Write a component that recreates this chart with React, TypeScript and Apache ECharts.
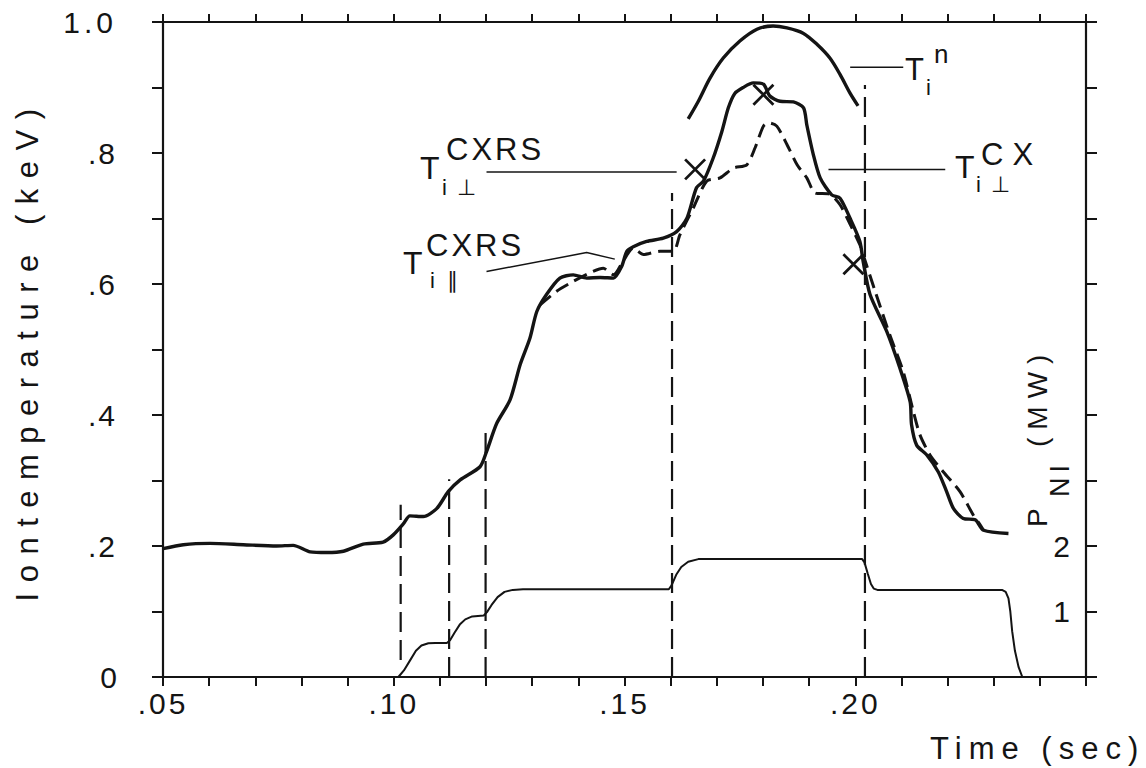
import React, { useEffect, useRef } from 'react';
import * as echarts from 'echarts';

// ---- data (time in sec, temperature in keV, power in MW) ----
const tiCxTime = [0.05, 0.0544, 0.0602, 0.0674, 0.0746, 0.0782, 0.0819, 0.0855, 0.0891, 0.0934, 0.0977, 0.0999, 0.1021, 0.1035, 0.1064, 0.1093, 0.1118, 0.1144, 0.1187, 0.1201, 0.1223, 0.1252, 0.1274, 0.1295, 0.131, 0.1331, 0.136, 0.1389, 0.1418, 0.1447, 0.1476, 0.1494, 0.1505, 0.1519, 0.1548, 0.1584, 0.1613, 0.1635, 0.1656, 0.1671, 0.1692, 0.1711, 0.1725, 0.1739, 0.1757, 0.1779, 0.1801, 0.1815, 0.1837, 0.1866, 0.1888, 0.1895, 0.1909, 0.1924, 0.1949, 0.1967, 0.1989, 0.201, 0.2017, 0.2032, 0.2068, 0.2097, 0.2119, 0.2122, 0.2133, 0.2155, 0.218, 0.2198, 0.2213, 0.2234, 0.226, 0.2278, 0.2332];
const tiCxValue = [0.196, 0.202, 0.204, 0.202, 0.2, 0.201, 0.191, 0.19, 0.192, 0.203, 0.206, 0.217, 0.234, 0.246, 0.245, 0.257, 0.283, 0.301, 0.321, 0.344, 0.387, 0.423, 0.477, 0.517, 0.558, 0.584, 0.609, 0.614, 0.609, 0.61, 0.609, 0.627, 0.65, 0.657, 0.665, 0.67, 0.68, 0.7, 0.747, 0.757, 0.792, 0.833, 0.869, 0.891, 0.9, 0.907, 0.905, 0.887, 0.879, 0.878, 0.869, 0.843, 0.798, 0.762, 0.736, 0.731, 0.7, 0.665, 0.635, 0.584, 0.528, 0.471, 0.42, 0.385, 0.354, 0.339, 0.313, 0.283, 0.257, 0.242, 0.24, 0.224, 0.219];

const tiNTime = [0.1638, 0.166, 0.1685, 0.1714, 0.175, 0.1787, 0.1822, 0.1852, 0.1887, 0.1917, 0.1945, 0.1967, 0.1989, 0.2006];
const tiNValue = [0.852, 0.879, 0.914, 0.945, 0.971, 0.989, 0.994, 0.991, 0.983, 0.966, 0.945, 0.92, 0.891, 0.872];

const tiParTime = [0.1317, 0.1353, 0.1389, 0.1425, 0.1454, 0.1476, 0.1497, 0.1519, 0.1541, 0.1577, 0.1606, 0.162, 0.1649, 0.1678, 0.1707, 0.1736, 0.1765, 0.1783, 0.1801, 0.1812, 0.183, 0.1852, 0.1874, 0.1895, 0.1913, 0.1945, 0.1967, 0.1989, 0.201, 0.2017, 0.2043, 0.2075, 0.2104, 0.2126, 0.214, 0.2162, 0.2191, 0.2227, 0.2256, 0.2271, 0.2278];
const tiParValue = [0.568, 0.589, 0.604, 0.617, 0.624, 0.614, 0.635, 0.655, 0.645, 0.65, 0.65, 0.675, 0.716, 0.757, 0.762, 0.777, 0.782, 0.808, 0.841, 0.846, 0.841, 0.813, 0.782, 0.762, 0.739, 0.737, 0.721, 0.691, 0.66, 0.645, 0.589, 0.522, 0.466, 0.405, 0.37, 0.339, 0.313, 0.283, 0.247, 0.232, 0.224];

const cxrsPerpTime = [0.1653, 0.1801, 0.1996];
const cxrsPerpValue = [0.775, 0.889, 0.63];

const powerTime = [0.101, 0.1022, 0.1035, 0.1048, 0.106, 0.1075, 0.109, 0.1115, 0.1122, 0.1132, 0.1143, 0.1155, 0.117, 0.1195, 0.1202, 0.1212, 0.1225, 0.124, 0.1258, 0.128, 0.1596, 0.1602, 0.1612, 0.1623, 0.1638, 0.166, 0.2015, 0.202, 0.2027, 0.2034, 0.204, 0.2048, 0.2318, 0.2326, 0.2332, 0.2336, 0.234, 0.2346, 0.2354, 0.2362];
const powerMW = [0, 0.1, 0.25, 0.4, 0.48, 0.515, 0.52, 0.52, 0.56, 0.68, 0.8, 0.88, 0.925, 0.94, 0.99, 1.1, 1.22, 1.3, 1.33, 1.34, 1.34, 1.4, 1.56, 1.68, 1.76, 1.8, 1.8, 1.75, 1.58, 1.42, 1.35, 1.33, 1.33, 1.3, 1.2, 1.0, 0.7, 0.4, 0.15, 0];

const beamTime = [0.1015, 0.112, 0.1199, 0.1603, 0.2021];
const beamBottom = [0.026, 0, 0, 0, 0];
const beamTop = [0.263, 0.302, 0.376, 0.739, 0.904];

// leader lines of the curve labels
const leaderPerpTime = [0.1201, 0.1613];
const leaderPerpValue = [0.771, 0.771];
const leaderParTime = [0.1201, 0.1418, 0.1479];
const leaderParValue = [0.619, 0.648, 0.638];
const leaderCxTime = [0.1942, 0.2195];
const leaderCxValue = [0.775, 0.775];
const leaderNTime = [0.1989, 0.2104];
const leaderNValue = [0.931, 0.931];

const xTickLabels: Record<string, string> = { '0.05': '.05', '0.10': '.10', '0.15': '.15', '0.20': '.20' };
const yTickLabels: Record<string, string> = { '0.0': '0', '0.2': '.2', '0.4': '.4', '0.6': '.6', '0.8': '.8', '1.0': '1.0' };
const powerTickLabels: Record<string, string> = { '1': '1', '2': '2' };

const FONT = '"Liberation Sans", Arial, Helvetica, sans-serif';
const INK = '#141414';

const SPACING: Record<string, number> = {
  'Iontemperature (keV)': 10.5,
  'Time (sec)': 7,
  'CXRS': 3,
  'CX': 9,
  '(MW)': 8,
  'NI': 5,
  'i ⊥': 2,
  'i ∥': 3,
  '.05': 3,
  '.10': 3,
  '.15': 3,
  '.20': 3,
  '1.0': 4,
  '.2': 2,
  '.4': 2,
  '.6': 2,
  '.8': 2,
};

const zip = (a: number[], b: number[]) => a.map((t, i) => [t, b[i]]);

const txt = (x: number, y: number, s: string, size: number, extra: any = {}) => ({
  type: 'text',
  x,
  y,
  silent: true,
  style: {
    text: s,
    fontSize: size,
    fontFamily: FONT,
    fill: INK,
    align: 'left',
    verticalAlign: 'middle',
    ...extra,
  },
});

export default function App() {
  const ref = useRef<HTMLDivElement>(null);

  useEffect(() => {
    if (!ref.current) return;
    const chart = echarts.init(ref.current, undefined, { renderer: 'svg' });

    const plain = (name: string, data: any[], width: number, extra: any = {}) => ({
      type: 'line',
      name,
      data,
      showSymbol: false,
      symbol: 'none',
      silent: true,
      lineStyle: { color: INK, width, ...extra.lineStyle },
      ...extra.series,
    });

    const beams = beamTime.map((t, i) =>
      plain('beam' + i, [[t, beamBottom[i]], [t, beamTop[i]]], 2.2, { lineStyle: { type: [20, 8] } })
    );

    const tickCommon = { show: true, length: 9, lineStyle: { color: INK, width: 2 } };
    const axisLine = { show: true, onZero: false, lineStyle: { color: INK, width: 2.2 } };

    const yName: any = txt(27, 350, 'Iontemperature (keV)', 31, { align: 'center', textAlign: 'center' });
    yName.rotation = Math.PI / 2;

    const option: any = {
      animation: false,
      backgroundColor: '#ffffff',
      grid: { left: 163, right: 60, top: 22, bottom: 91, containLabel: false },
      xAxis: [
        {
          type: 'value', min: 0.05, max: 0.25, interval: 0.05, position: 'bottom',
          axisLine, axisTick: tickCommon,
          minorTick: { ...tickCommon, splitNumber: 5 },
          splitLine: { show: false }, minorSplitLine: { show: false },
          axisLabel: {
            margin: 11, fontSize: 30, fontFamily: FONT, color: INK,
            formatter: (v: number) => xTickLabels[v.toFixed(2)] || '',
          },
        },
        {
          type: 'value', min: 0.05, max: 0.25, interval: 0.05, position: 'top',
          axisLine, axisTick: { ...tickCommon, length: 8 },
          minorTick: { ...tickCommon, length: 8, splitNumber: 5 },
          splitLine: { show: false }, minorSplitLine: { show: false },
          axisLabel: { show: false },
        },
      ],
      yAxis: [
        {
          type: 'value', min: 0, max: 1, interval: 0.2, position: 'left',
          axisLine, axisTick: { ...tickCommon, length: 11 },
          minorTick: { ...tickCommon, length: 11, splitNumber: 2 },
          splitLine: { show: false }, minorSplitLine: { show: false },
          axisLabel: {
            margin: 46, fontSize: 30, fontFamily: FONT, color: INK,
            formatter: (v: number) => yTickLabels[v.toFixed(1)] || '',
          },
        },
        {
          type: 'value', min: 0, max: 10, interval: 1, position: 'right',
          axisLine, axisTick: { ...tickCommon, length: 11 },
          splitLine: { show: false },
          axisLabel: {
            inside: true, margin: 16, fontSize: 30, fontFamily: FONT, color: INK,
            formatter: (v: number) => powerTickLabels[String(Math.round(v * 1000) / 1000)] || '',
          },
        },
      ],
      series: [
        plain('Ti⊥ CX', zip(tiCxTime, tiCxValue), 3.4, { series: { smooth: 0.25 } }),
        plain('Ti n', zip(tiNTime, tiNValue), 3.4, { series: { smooth: 0.3 } }),
        plain('Ti∥ CXRS', zip(tiParTime, tiParValue), 3, { lineStyle: { type: [14, 7] }, series: { smooth: 0.25 } }),
        plain('P NI', zip(powerTime, powerMW), 2, { series: { yAxisIndex: 1 } }),
        ...beams,
        plain('leader ⊥ CXRS', zip(leaderPerpTime, leaderPerpValue), 1.5),
        plain('leader ∥ CXRS', zip(leaderParTime, leaderParValue), 1.5),
        plain('leader ⊥ CX', zip(leaderCxTime, leaderCxValue), 1.5),
        plain('leader n', zip(leaderNTime, leaderNValue), 1.5),
        {
          type: 'scatter',
          name: 'Ti⊥ CXRS',
          data: zip(cxrsPerpTime, cxrsPerpValue),
          symbol: 'path://M0 0L20 20M20 0L0 20',
          symbolSize: 20,
          silent: true,
          itemStyle: { color: 'transparent', borderColor: INK, borderWidth: 2.8, opacity: 1 },
          z: 5,
        },
      ],
      graphic: [
        yName,
        // x axis name
        txt(930, 748, 'Time (sec)', 31),
        // right axis name, rotated
        {
          type: 'group', x: 1047, y: 527, rotation: Math.PI / 2, silent: true,
          children: [
            txt(0, -10, 'P', 28),
            txt(30, 13, 'NI', 27),
            txt(80, -10, '(MW)', 28),
          ],
        },
        // T i⊥ CXRS
        txt(420, 168, 'T', 32),
        txt(446, 149, 'CXRS', 31),
        txt(442, 187, 'i ⊥', 22),
        // T i∥ CXRS
        txt(403, 263, 'T', 32),
        txt(426, 245, 'CXRS', 31),
        txt(430, 280, 'i ∥', 22),
        // T i⊥ CX
        txt(955, 167, 'T', 32),
        txt(981, 154, 'CX', 31),
        txt(976, 184, 'i ⊥', 22),
        // T i n
        txt(905, 69, 'T', 31),
        txt(934, 54, 'n', 26),
        txt(926, 87, 'i', 22),
      ],
    };

    chart.setOption(option);

    const applySpacing = () => {
      const root = ref.current;
      if (!root) return;
      root.querySelectorAll('text').forEach((t) => {
        const s = SPACING[(t.textContent || '').trim()];
        if (s !== undefined) (t as SVGTextElement).style.letterSpacing = s + 'px';
      });
    };
    applySpacing();
    chart.on('finished', applySpacing);

    return () => {
      chart.dispose();
    };
  }, []);

  return (
    <div
      ref={ref}
      style={{ position: 'absolute', left: 0, top: 0, width: 1146, height: 768, background: '#fff' }}
    />
  );
}
